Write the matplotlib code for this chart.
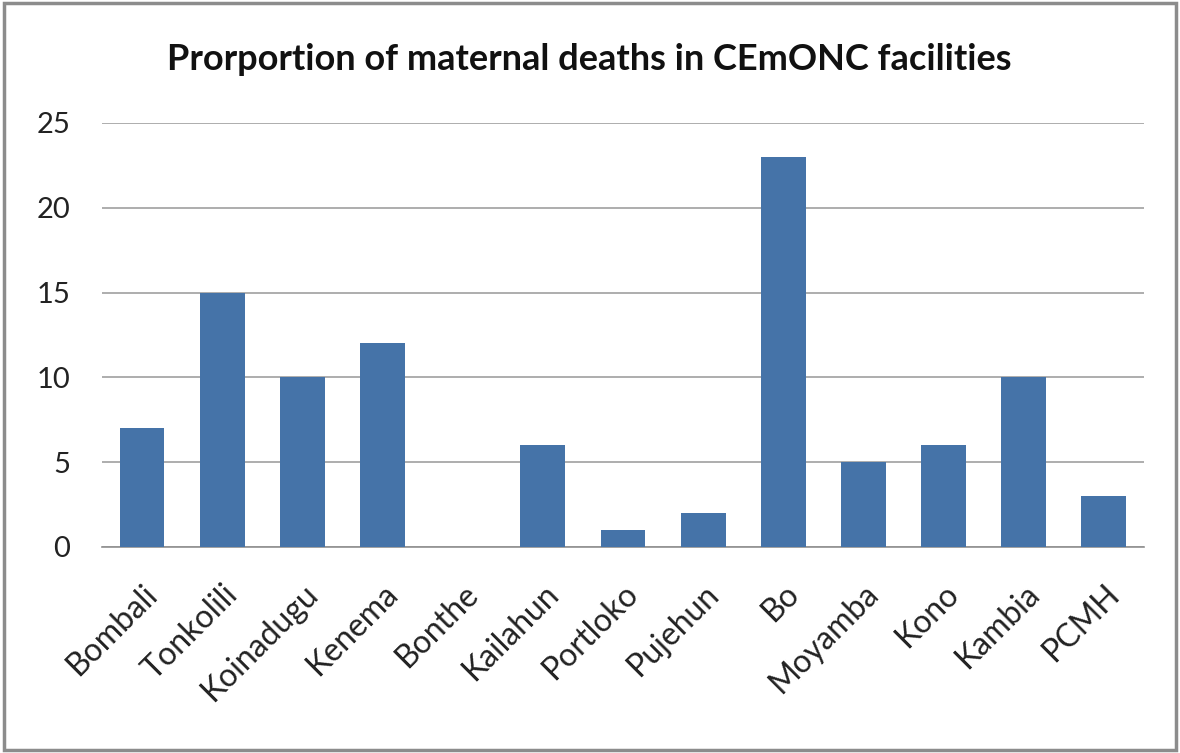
import matplotlib
matplotlib.use("Agg")
import matplotlib.pyplot as plt
from matplotlib.patches import Rectangle

categories = ["Bombali", "Tonkolili", "Koinadugu", "Kenema", "Bonthe", "Kailahun",
              "Portloko", "Pujehun", "Bo", "Moyamba", "Kono", "Kambia", "PCMH"]
values = [7, 15, 10, 12, 0, 6, 1, 2, 23, 5, 6, 10, 3]
yticks = [0, 5, 10, 15, 20, 25]

plt.rcParams['font.family'] = ['Lato', 'DejaVu Sans']

fig = plt.figure(figsize=(11.8, 7.53), dpi=100)
ax = fig.add_axes([0.0864, 0.2736, 0.9695 - 0.0864, 0.8367 - 0.2736])

x = list(range(len(categories)))
ax.bar(x, values, width=0.56, color="#4573A8", zorder=3)
ax.set_xlim(-0.5, len(categories) - 0.5)
ax.set_ylim(0, 25)
ax.set_yticks(yticks)
ax.set_yticklabels([str(t) for t in yticks], fontsize=21, color="#222222")
ax.set_xticks(x)
ax.set_xticklabels(categories, rotation=45, ha="right", rotation_mode="anchor",
                   fontsize=23, color="#222222")
ax.tick_params(axis="both", length=0)
ax.tick_params(axis="y", pad=23)
ax.tick_params(axis="x", pad=23)
ax.yaxis.grid(True, color="#A0A0A0", linewidth=1.2, zorder=0)
for s in ["top", "right", "left"]:
    ax.spines[s].set_visible(False)
ax.spines["bottom"].set_color("#909090")
ax.spines["bottom"].set_linewidth(1.2)

fig.text(0.499, 0.921, "Prorportion of maternal deaths in CEmONC facilities",
         ha="center", va="center", fontsize=26, fontweight="bold", color="#111111")

fig.patches.append(Rectangle((0.003, 0.004), 0.994, 0.992, transform=fig.transFigure,
                             fill=False, edgecolor="#8C8C8C", linewidth=2.5))

fig.savefig("out.png", dpi=100)
